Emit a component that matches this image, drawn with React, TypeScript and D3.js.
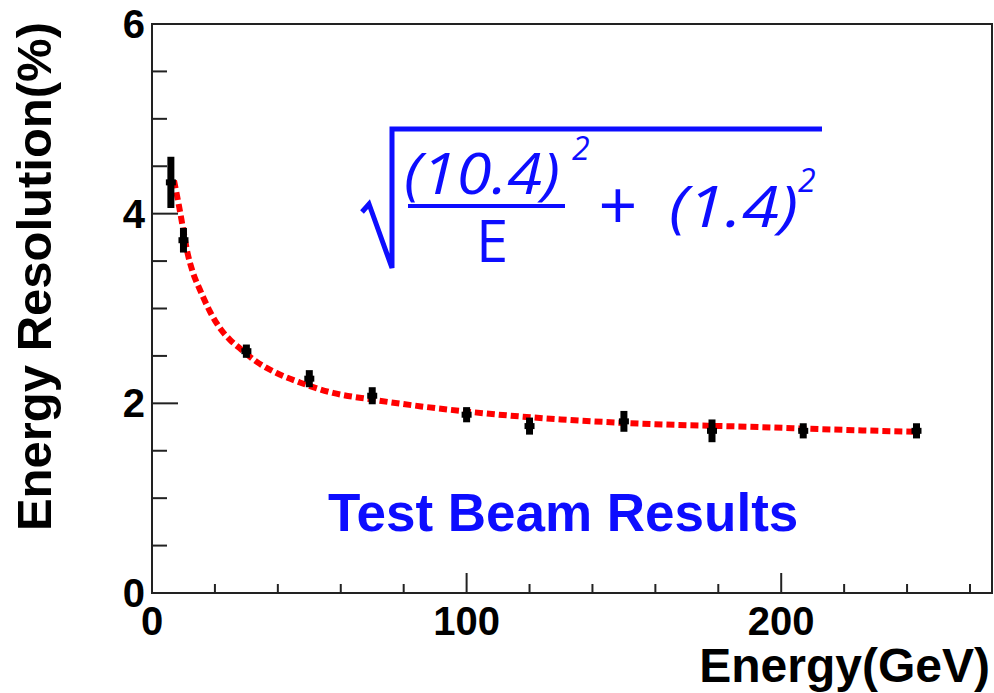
import React from "react";
import * as d3 from "d3";

const energies = [6, 10, 30, 50, 70, 100, 120, 150, 178, 207, 243];
const resolution = [4.33, 3.72, 2.55, 2.26, 2.08, 1.88, 1.76, 1.81, 1.71, 1.71, 1.71];
const resErrors = [0.27, 0.13, 0.07, 0.09, 0.09, 0.08, 0.09, 0.11, 0.12, 0.08, 0.08];

const fitE = [7, 8.7, 9.4, 11.4, 13, 15.2, 18.4, 22.1, 24.8, 27.9, 33.2, 39.6, 47, 57.5, 70, 85, 101, 130, 160, 193, 220, 243];
const fitV = [4.35, 4.06, 3.93, 3.57, 3.38, 3.2, 2.97, 2.77, 2.67, 2.58, 2.44, 2.32, 2.22, 2.11, 2.04, 1.97, 1.91, 1.83, 1.78, 1.75, 1.72, 1.7];

const xMajor = [0, 100, 200];
const xMinor = [20, 40, 60, 80, 120, 140, 160, 180, 220, 240, 260];
const yMajor = [0, 2, 4, 6];
const yMinor = [0.5, 1, 1.5, 2.5, 3, 3.5, 4.5, 5, 5.5];

export default function App() {
  const W = 994, H = 693;
  const x = d3.scaleLinear().domain([0, 267]).range([152, 992]);
  const y = d3.scaleLinear().domain([0, 6]).range([593, 24]);
  const line = d3
    .line<number>()
    .x((_, i) => x(fitE[i]))
    .y((d) => y(d))
    .curve(d3.curveMonotoneX);
  const fontBold = "'Liberation Sans', Arial, Helvetica, sans-serif";
  const blue = "#0d0dff";
  const formulaFont = "'Open Sans', 'Noto Sans', sans-serif";
  return (
    <svg width={W} height={H} style={{ position: "absolute", left: 0, top: 0, background: "#fff" }}>
      <rect x={0} y={0} width={W} height={H} fill="#fff" />
      {/* frame */}
      <rect x={x(0)} y={y(6)} width={x(267) - x(0)} height={y(0) - y(6)} fill="none" stroke="#222" strokeWidth={2} />
      {/* y ticks */}
      {yMajor.map((v) => (
        <line key={"ym" + v} x1={x(0)} x2={x(0) + 26} y1={y(v)} y2={y(v)} stroke="#222" strokeWidth={2} />
      ))}
      {yMinor.map((v) => (
        <line key={"yn" + v} x1={x(0)} x2={x(0) + 15} y1={y(v)} y2={y(v)} stroke="#222" strokeWidth={2} />
      ))}
      {xMajor.map((v) => (
        <line key={"xm" + v} x1={x(v)} x2={x(v)} y1={y(0)} y2={y(0) - 20} stroke="#222" strokeWidth={2} />
      ))}
      {xMinor.map((v) => (
        <line key={"xn" + v} x1={x(v)} x2={x(v)} y1={y(0)} y2={y(0) - 9} stroke="#222" strokeWidth={2} />
      ))}
      {/* tick labels */}
      {yMajor.map((v) => (
        <text key={"yl" + v} x={145} y={y(v) + 14} textAnchor="end" fontFamily={fontBold} fontWeight="bold" fontSize={40} fill="#000">
          {v}
        </text>
      ))}
      {xMajor.map((v) => (
        <text key={"xl" + v} x={x(v)} y={635} textAnchor="middle" fontFamily={fontBold} fontWeight="bold" fontSize={40} fill="#000">
          {v}
        </text>
      ))}
      {/* axis titles */}
      <text x={990} y={682} textAnchor="end" fontFamily={fontBold} fontWeight="bold" fontSize={48} fill="#000">
        Energy(GeV)
      </text>
      <text
        transform="translate(51,22) rotate(-90)"
        textAnchor="end"
        fontFamily={fontBold}
        fontWeight="bold"
        fontSize={49}
        fill="#000"
      >
        Energy Resolution(%)
      </text>
      {/* fit curve */}
      <path d={line(fitV) || ""} fill="none" stroke="#ff0000" strokeWidth={6} strokeDasharray="8,4" />
      {/* data points */}
      {energies.map((e, i) => (
        <g key={"p" + e}>
          <line
            x1={x(e)}
            x2={x(e)}
            y1={y(resolution[i] - resErrors[i])}
            y2={y(resolution[i] + resErrors[i])}
            stroke="#000"
            strokeWidth={7}
          />
          <rect x={x(e) - 5} y={y(resolution[i]) - 3} width={10} height={6} fill="#000" />
        </g>
      ))}
      {/* label */}
      <text x={328} y={531} fontFamily={fontBold} fontWeight="bold" fontSize={53} fill={blue}>
        Test Beam Results
      </text>
      {/* formula */}
      <path d="M362,212 L369,204 L392,268 L392,129 L822,129" fill="none" stroke={blue} strokeWidth={5} strokeLinejoin="miter" />
      <text x={404} y={194} fontFamily={formulaFont} fontStyle="italic" fontWeight={500} fontSize={56} fill={blue} textLength={156} lengthAdjust="spacingAndGlyphs">
        (10.4)
      </text>
      <text x={572} y={160} fontFamily={formulaFont} fontStyle="italic" fontWeight={500} fontSize={32} fill={blue}>
        2
      </text>
      <rect x={408} y={204} width={157} height={4} fill={blue} />
      <text x={476} y={262} fontFamily={formulaFont} fontWeight={500} fontSize={58} fill={blue}>
        E
      </text>
      <text x={618} y={230} textAnchor="middle" fontFamily={formulaFont} fontWeight={500} fontSize={68} fill={blue}>
        +
      </text>
      <text x={669} y={227} fontFamily={formulaFont} fontStyle="italic" fontWeight={500} fontSize={56} fill={blue} textLength={129} lengthAdjust="spacingAndGlyphs">
        (1.4)
      </text>
      <text x={798} y={192} fontFamily={formulaFont} fontStyle="italic" fontWeight={500} fontSize={32} fill={blue}>
        2
      </text>
    </svg>
  );
}
